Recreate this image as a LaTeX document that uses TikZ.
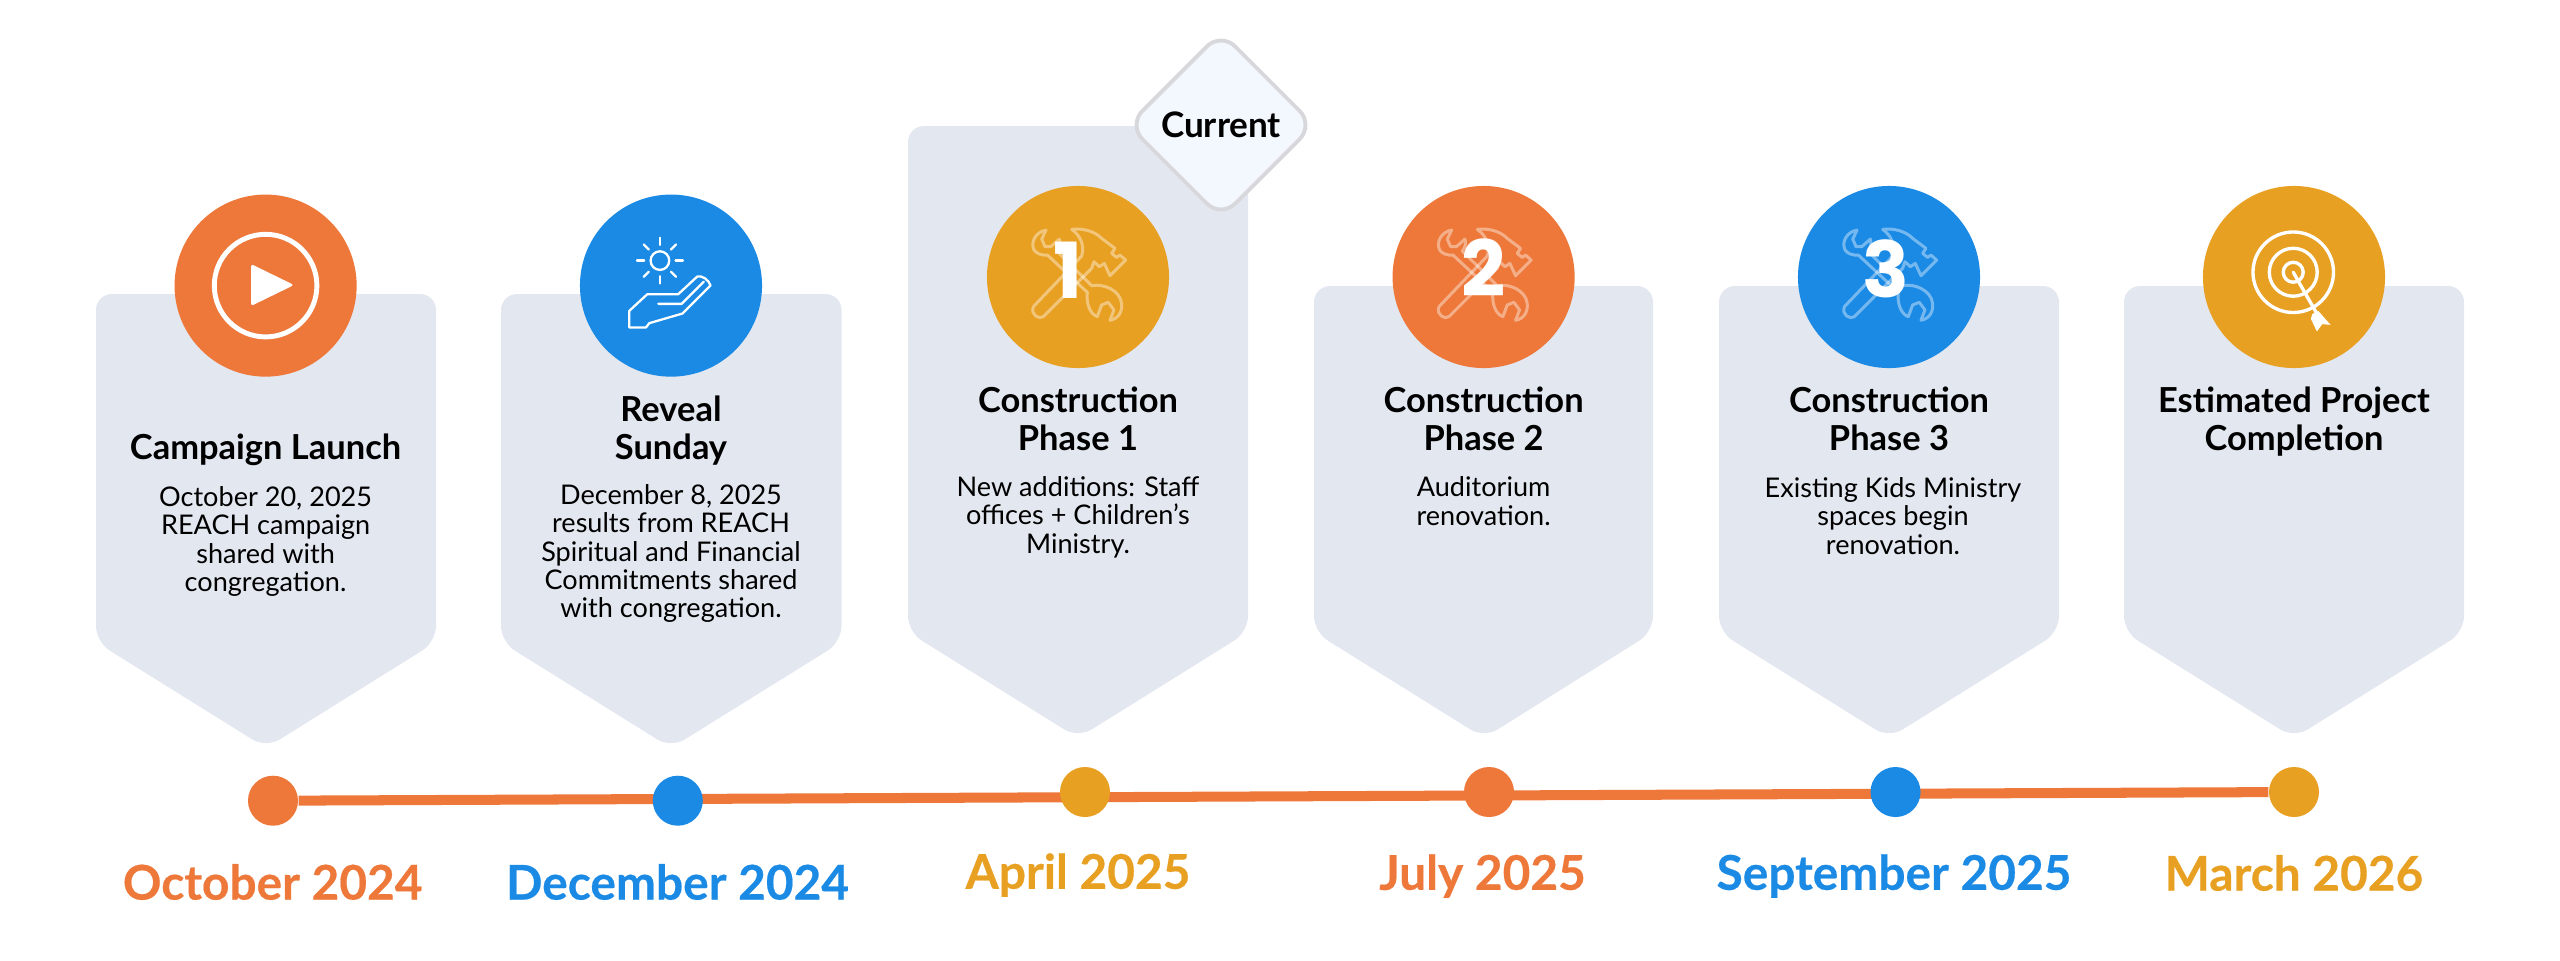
\documentclass[tikz,border=0pt]{standalone}
\usepackage{fontspec}
\setmainfont{Lato}
\newfontfamily\numfont{Poppins}
\newfontfamily\datefont[BoldFeatures={FakeBold=0.4}]{Lato}
\usetikzlibrary{shapes.geometric,backgrounds}
\definecolor{accorange}{HTML}{ED783A}
\definecolor{accblue}{HTML}{1A8AE5}
\definecolor{accgold}{HTML}{E8A023}
\definecolor{cardfill}{HTML}{E3E7F0}
\definecolor{tagfill}{HTML}{F3F7FE}
\definecolor{tagline}{HTML}{D8D8DC}
\def\iconsize{1.82}
\def\dotsize{0.5}
\def\bodysep{0.9}
\tikzset{
  cardshape/.style={
    fill=cardfill,
    rounded corners=0.16cm
  },
  iconnode/.style={
    circle,
    minimum size=\iconsize cm,
    inner sep=0pt,
    fill=#1
  },
  dotnode/.style={
    circle,
    minimum size=\dotsize cm,
    inner sep=0pt,
    fill=#1
  },
  numnode/.style={
    inner sep=0pt,
    text=white,
    font=\numfont\bfseries\fontsize{22}{22}\selectfont
  },
  titlenode/.style={
    inner sep=0pt,
    align=center,
    font=\bfseries\fontsize{9.8}{10.8}\selectfont
  },
  bodynode/.style={
    inner sep=0pt,
    align=center,
    font=\fontsize{7.7}{8.08}\selectfont
  },
  datenode/.style={
    inner sep=0pt,
    text=#1,
    font=\datefont\bfseries\fontsize{13.6}{13.6}\selectfont
  },
  tagnode/.style={
    diamond,
    aspect=1,
    minimum size=1.87cm,
    inner sep=0pt,
    rounded corners=0.2cm,
    fill=tagfill,
    draw=tagline,
    line width=1.1pt,
    font=\bfseries\fontsize{10}{10}\selectfont
  },
  timeline/.style={accorange, line width=2.85pt},
  iconline/.style={white, line width=0.65pt, line join=round, line cap=round},
  tools/.pic={
    \begin{scope}[x=0.00333cm, y=-0.00333cm, shift={(-204,-186)}, white, opacity=0.4, line width=0.85pt, line join=round]
      \draw (108,45) .. controls (78,50) and (60,80) .. (72,105) .. controls (78,115) and (95,122) .. (112,120)
        -- (232,232) .. controls (228,265) and (240,298) .. (262,305) -- (275,270) -- (295,262) -- (312,285) -- (300,316)
        .. controls (325,312) and (338,290) .. (335,265) .. controls (330,225) and (280,205) .. (245,212)
        -- (140,108) .. controls (150,95) and (152,82) .. (148,72) -- (122,95) -- (105,95) -- (95,72) -- cycle;
      \draw (185,43) .. controls (215,38) and (255,48) .. (275,70) -- (315,100) -- (305,115) -- (320,127) -- (330,120)
        -- (347,135) -- (300,182) -- (283,145) -- (268,155) -- (252,140) -- (245,160) -- (100,305)
        .. controls (88,315) and (60,300) .. (70,275) -- (215,123) .. controls (225,90) and (210,60) .. (185,43) -- cycle;
    \end{scope}
  }
}
\begin{document}
\begin{tikzpicture}[x=0.01cm, y=-0.01cm, node distance=\bodysep cm]
    \useasboundingbox (0,0) rectangle (2560,960);

    %% Cards
    \fill[cardshape] (96,294) -- (436,294) -- (436,642) -- (266,748) -- (96,642) -- cycle;
    \fill[cardshape] (501,294) -- (841.5,294) -- (841.5,642) -- (671,748) -- (501,642) -- cycle;
    \fill[cardshape] (908,126) -- (1248,126) -- (1248,632) -- (1078,738) -- (908,632) -- cycle;
    \fill[cardshape] (1314,286) -- (1653,286) -- (1653,632) -- (1484,738) -- (1314,632) -- cycle;
    \fill[cardshape] (1719,286) -- (2059,286) -- (2059,632) -- (1889,738) -- (1719,632) -- cycle;
    \fill[cardshape] (2124,286) -- (2464,286) -- (2464,632) -- (2294,738) -- (2124,632) -- cycle;
    \node[tagnode] (tag) at (1221,125) {Current};

    %% Icons
    \node[iconnode=accorange] (i1) at (265.6,285.6) {};
    \node[iconnode=accblue] (i2) at (671,285.6) {};
    \node[iconnode=accgold] (i3) at (1078,277) {};
    \node[iconnode=accorange] (i4) at (1483.6,277) {};
    \node[iconnode=accblue] (i5) at (1889,277) {};
    \node[iconnode=accgold] (i6) at (2294,277) {};

    \draw[white, line width=1.4pt] (i1.center) circle (51.3);
    \fill[white, rounded corners=0.8pt] (251,264) -- (294,285) -- (251,306) -- cycle;

    \begin{scope}[shift={(610,215)}, x=0.00333cm, y=-0.00333cm, iconline]
      \draw (150,137) circle (28);
      \foreach \a in {0,45,...,315}
        \draw (150,137) ++(\a:47) -- ++(\a:22);
      \draw (58,338) -- (58,288) -- (112,238) -- (205,238) -- (262,185) .. controls (275,180) and (298,195) .. (302,212)
        -- (218,296) -- (118,325) -- (108,338) -- cycle;
      \draw (145,267) -- (215,267) -- (282,200);
    \end{scope}

    \pic at (i3.center) {tools};
    \pic at (i4.center) {tools};
    \pic at (i5.center) {tools};
    \node[numnode] (n1) at (1068,270) {1};
    \node[numnode] (n2) at (1483.8,268) {2};
    \node[numnode] (n3) at (1885.5,269) {3};

    \begin{scope}[shift={(2235,215)}, x=0.00333cm, y=-0.00333cm, iconline, line width=0.95pt]
      \draw (175,172) circle (121);
      \draw (175,172) circle (72);
      \draw (175,172) circle (30);
      \draw (175,172) -- (245,295);
      \fill (250,288) -- (287,330) -- (262,328) -- (246,350) -- (228,312) -- (232,298) -- cycle;
    \end{scope}

    %% Card texts
    \node[titlenode] (t1) at (265.6,450) {Campaign Launch};
    \node[bodynode] (b1) at (265.6,541.5) {October 20, 2025\\REACH campaign\\shared with\\congregation.};
    \node[titlenode] (t2) at (671,431) {Reveal\\Sunday};
    \node[bodynode] (b2) at (671,553.5) {December 8, 2025\\results from REACH\\Spiritual and Financial\\Commitments shared\\with congregation.};
    \node[titlenode] (t3) at (1078,419) {Construction\\Phase 1};
    \node[bodynode] (b3) at (1078,517) {New additions: Staff\\offices + Children’s\\Ministry.};
    \node[titlenode] (t4) at (1483.6,419) {Construction\\Phase 2};
    \node[bodynode] (b4) at (1483.6,501) {Auditorium\\renovation.};
    \node[titlenode] (t5) at (1889,419) {Construction\\Phase 3};
    \node[bodynode] (b5) at (1893,516) {Existing Kids Ministry\\spaces begin\\renovation.};
    \node[titlenode] (t6) at (2294,422) {Estimated Project\\Completion};

    %% Timeline
    \node[dotnode=accorange] (d1) at (273,800.7) {};
    \node[dotnode=accblue] (d2) at (677.8,800.7) {};
    \node[dotnode=accgold] (d3) at (1085,792) {};
    \node[dotnode=accorange] (d4) at (1489,792) {};
    \node[dotnode=accblue] (d5) at (1895.5,792) {};
    \node[dotnode=accgold] (d6) at (2294,792) {};
    \begin{scope}[on background layer]
      \draw[timeline] (d1) -- (d6);
    \end{scope}

    \node[datenode=accorange] (m1) at (272.7,882) {October 2024};
    \node[datenode=accblue] (m2) at (677.6,882) {December 2024};
    \node[datenode=accgold] (m3) at (1078,875) {April 2025};
    \node[datenode=accorange] (m4) at (1482.5,876) {July 2025};
    \node[datenode=accblue] (m5) at (1894,876) {September 2025};
    \node[datenode=accgold] (m6) at (2294,873) {March 2026};
\end{tikzpicture}
\end{document}
